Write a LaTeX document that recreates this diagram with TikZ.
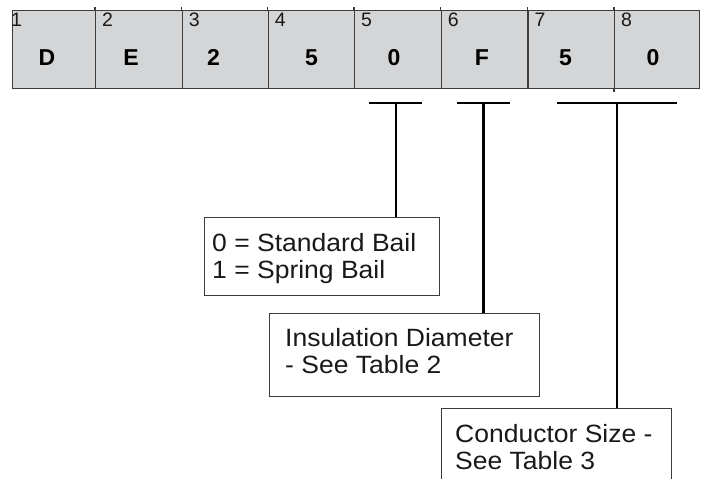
\documentclass[tikz,border=0pt]{standalone}
\usepackage{fontspec}
\setmainfont{Liberation Sans}
\newfontfamily\labfont[FakeStretch=1.06]{Liberation Sans}
\definecolor{cellgray}{RGB}{212,213,215}
\definecolor{edge}{RGB}{60,60,60}
\definecolor{ink}{RGB}{25,25,25}
\tikzset{
  cell/.style={draw=edge, line width=1.3pt, fill=cellgray, rectangle, inner sep=0pt,
    minimum height=78pt, anchor=north west},
  letter/.style={font=\fontsize{23}{25}\selectfont\bfseries, text=black, inner sep=0pt, anchor=base},
  num/.style={font=\fontsize{19.5}{22}\selectfont, text=ink, inner sep=0pt, anchor=base west},
  infobox/.style={draw=edge, line width=1.2pt, fill=white, rectangle, inner sep=0pt, anchor=north west},
  infotext/.style={font=\labfont\fontsize{25}{27}\selectfont, text=ink, inner sep=0pt, align=left, anchor=base west},
  bar/.style={line width=2.4pt, black},
  conn/.style={line width=2.4pt, black},
}
\begin{document}
\begin{tikzpicture}[x=1pt,y=-1pt]
\clip (0,0) rectangle (705,479);
\fill[white] (0,0) rectangle (705,479);
% cells
\node[cell, minimum width=83pt] (c1) at (12,9.5) {};
\node[cell, minimum width=86.7pt] (c2) at (95,9.5) {};
\node[cell, minimum width=86pt] (c3) at (181.7,9.5) {};
\node[cell, minimum width=86.3pt] (c4) at (267.7,9.5) {};
\node[cell, minimum width=86.7pt] (c5) at (354,9.5) {};
\node[cell, minimum width=86.6pt] (c6) at (440.7,9.5) {};
\node[cell, minimum width=86.7pt] (c7) at (527.3,9.5) {};
\node[cell, minimum width=85pt] (c8) at (614,9.5) {};
% divider extensions
\foreach \c in {c2,c3,c4,c5,c6,c7,c8} {\draw[edge, line width=1.3pt] (\c.north west) -- ++(0,-2.5);}
\draw[edge, line width=1.3pt] (c8.south west) -- ++(0,3);
% numbers
\node[num] (n1) at (11,26.5) {1};
\node[num] (n2) at (102,26.5) {2};
\node[num] (n3) at (188.7,26.5) {3};
\node[num] (n4) at (274.7,26.5) {4};
\node[num] (n5) at (361,26.5) {5};
\node[num] (n6) at (447.7,26.5) {6};
\node[num] (n7) at (534.3,26.5) {7};
\node[num] (n8) at (621,26.5) {8};
% letters
\node[letter] (l1) at (47,65) {D};
\node[letter] (l2) at (131,65) {E};
\node[letter] (l3) at (213.5,65) {2};
\node[letter] (l4) at (311.5,65) {5};
\node[letter] (l5) at (394,65) {0};
\node[letter] (l6) at (482,65) {F};
\node[letter] (l7) at (565.5,65) {5};
\node[letter] (l8) at (653,65) {0};
% info boxes
\node[infobox, minimum width=235pt, minimum height=78pt] (bx1) at (204,217) {};
\node[infobox, minimum width=270pt, minimum height=83pt] (bx2) at (269,313) {};
\node[infobox, minimum width=230pt, minimum height=100pt] (bx3) at (441,408) {};
\node[infotext] (t1) at ([xshift=8pt,yshift=-34.5pt]bx1.north west) {0 = Standard Bail};
\node[infotext] (t1b) at ([xshift=8pt,yshift=-61pt]bx1.north west) {1 = Spring Bail};
\node[infotext] (t2) at ([xshift=16pt,yshift=-33.5pt]bx2.north west) {Insulation Diameter};
\node[infotext] (t2b) at ([xshift=16pt,yshift=-60pt]bx2.north west) {- See Table 2};
\node[infotext] (t3) at ([xshift=14pt,yshift=-34.5pt]bx3.north west) {Conductor Size -};
\node[infotext] (t3b) at ([xshift=14pt,yshift=-61pt]bx3.north west) {See Table 3};
% bars and connectors
\coordinate (b1l) at (369,103); \coordinate (b1r) at (422,103); \coordinate (b1m) at (396,103);
\coordinate (b2l) at (457,103); \coordinate (b2r) at (510,103); \coordinate (b2m) at (483.5,103);
\coordinate (b3l) at (557,103); \coordinate (b3r) at (677,103); \coordinate (b3m) at (617,103);
\draw[bar] (b1l) -- (b1r);
\draw[bar] (b2l) -- (b2r);
\draw[bar] (b3l) -- (b3r);
\draw[conn] (b1m) -- (b1m |- bx1.north);
\draw[conn] (b2m) -- (b2m |- bx2.north);
\draw[conn] (b3m) -- (b3m |- bx3.north);
\end{tikzpicture}
\end{document}
